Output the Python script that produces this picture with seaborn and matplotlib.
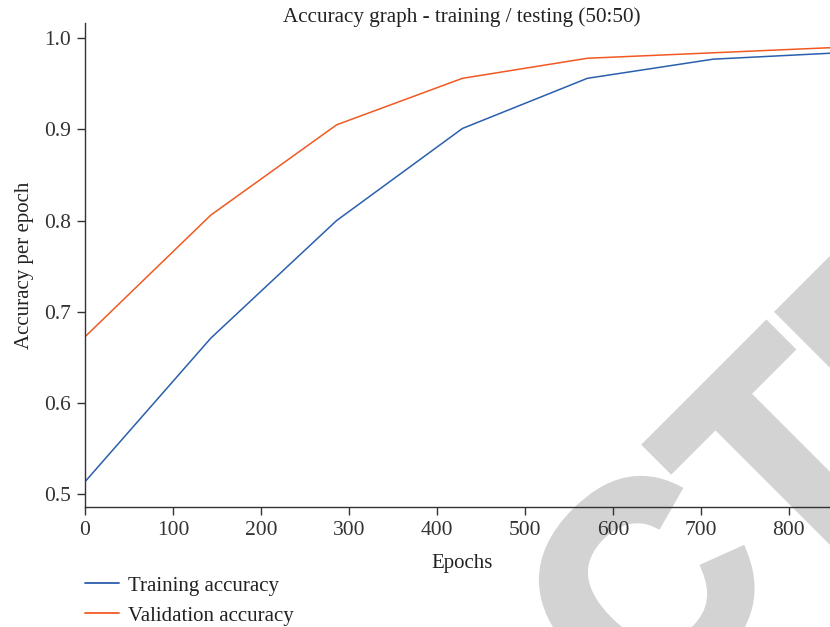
import matplotlib
matplotlib.use("Agg")
import matplotlib.pyplot as plt
import matplotlib.patheffects as pe
import seaborn as sns
import pandas as pd

# Accuracy per epoch for the 50:50 training / testing split
epochs = [0, 143, 286, 429, 571, 714, 857]
training_accuracy = [0.5135, 0.671, 0.800, 0.901, 0.956, 0.977, 0.984]
validation_accuracy = [0.6725, 0.806, 0.905, 0.956, 0.978, 0.984, 0.990]
series_names = ["Training accuracy", "Validation accuracy"]
x_ticks = [0, 100, 200, 300, 400, 500, 600, 700, 800]
y_ticks = [0.5, 0.6, 0.7, 0.8, 0.9, 1.0]

df = pd.DataFrame({
    "Epochs": epochs * 2,
    "Accuracy": training_accuracy + validation_accuracy,
    "Series": [series_names[0]] * len(epochs) + [series_names[1]] * len(epochs),
})

sns.set_style("ticks")
plt.rcParams["font.family"] = ["Liberation Serif", "DejaVu Serif"]
axis_color = "#333333"
plt.rcParams.update({
    "axes.edgecolor": axis_color,
    "xtick.color": axis_color,
    "ytick.color": axis_color,
    "text.color": "#222222",
    "axes.labelcolor": "#222222",
})

W, H = 830, 627
fig = plt.figure(figsize=(W / 100, H / 100), dpi=100)
fig.patch.set_facecolor("white")

# faint diagonal stamp behind the plot (stroked to make the letters heavier)
stamp_color = "#d3d3d3"
fig.text(568 / W, 1 - 800 / H, "RETRACTED", rotation=45, rotation_mode="anchor",
         ha="center", va="baseline", fontsize=203, fontweight="bold",
         family="Liberation Sans", color=stamp_color, zorder=-5,
         path_effects=[pe.withStroke(linewidth=8, foreground=stamp_color,
                                     joinstyle="miter")])

# axes run slightly past the right edge of the canvas
left, right = 85, 839
top, bottom = 22.7, 507
ax = fig.add_axes([left / W, 1 - bottom / H, (right - left) / W, (bottom - top) / H])
ax.patch.set_alpha(0)

palette = {series_names[0]: "#2b5fad", series_names[1]: "#f05a22"}
sns.lineplot(data=df, x="Epochs", y="Accuracy", hue="Series", palette=palette,
             linewidth=1.1, ax=ax, legend=False)

ax.set_xlim(0, 857)
ax.set_ylim(0.4858, 1.017)
ax.set_xticks(x_ticks)
ax.set_yticks(y_ticks)
ax.set_yticklabels([f"{v:.1f}" for v in y_ticks])
ax.tick_params(axis="both", labelsize=15.5, length=6, width=1, pad=4)
sns.despine(ax=ax)
for s in ("left", "bottom"):
    ax.spines[s].set_linewidth(1.0)

ax.set_xlabel("Epochs", fontsize=15, labelpad=10)
ax.set_ylabel("Accuracy per epoch", fontsize=15, labelpad=7)

fig.text(462 / W, 1 - 17 / H, "Accuracy graph - training / testing (50:50)",
         ha="center", va="center", fontsize=15.2)

handles = [plt.Line2D([], [], color=palette[n], linewidth=1.3) for n in series_names]
fig.legend(handles, series_names, loc="upper left",
           bbox_to_anchor=(85 / W, 1 - 576 / H), frameon=False, fontsize=15,
           handlelength=1.65, handletextpad=0.4, labelspacing=0.5,
           borderpad=0, borderaxespad=0)

fig.savefig("out.png", dpi=100)
